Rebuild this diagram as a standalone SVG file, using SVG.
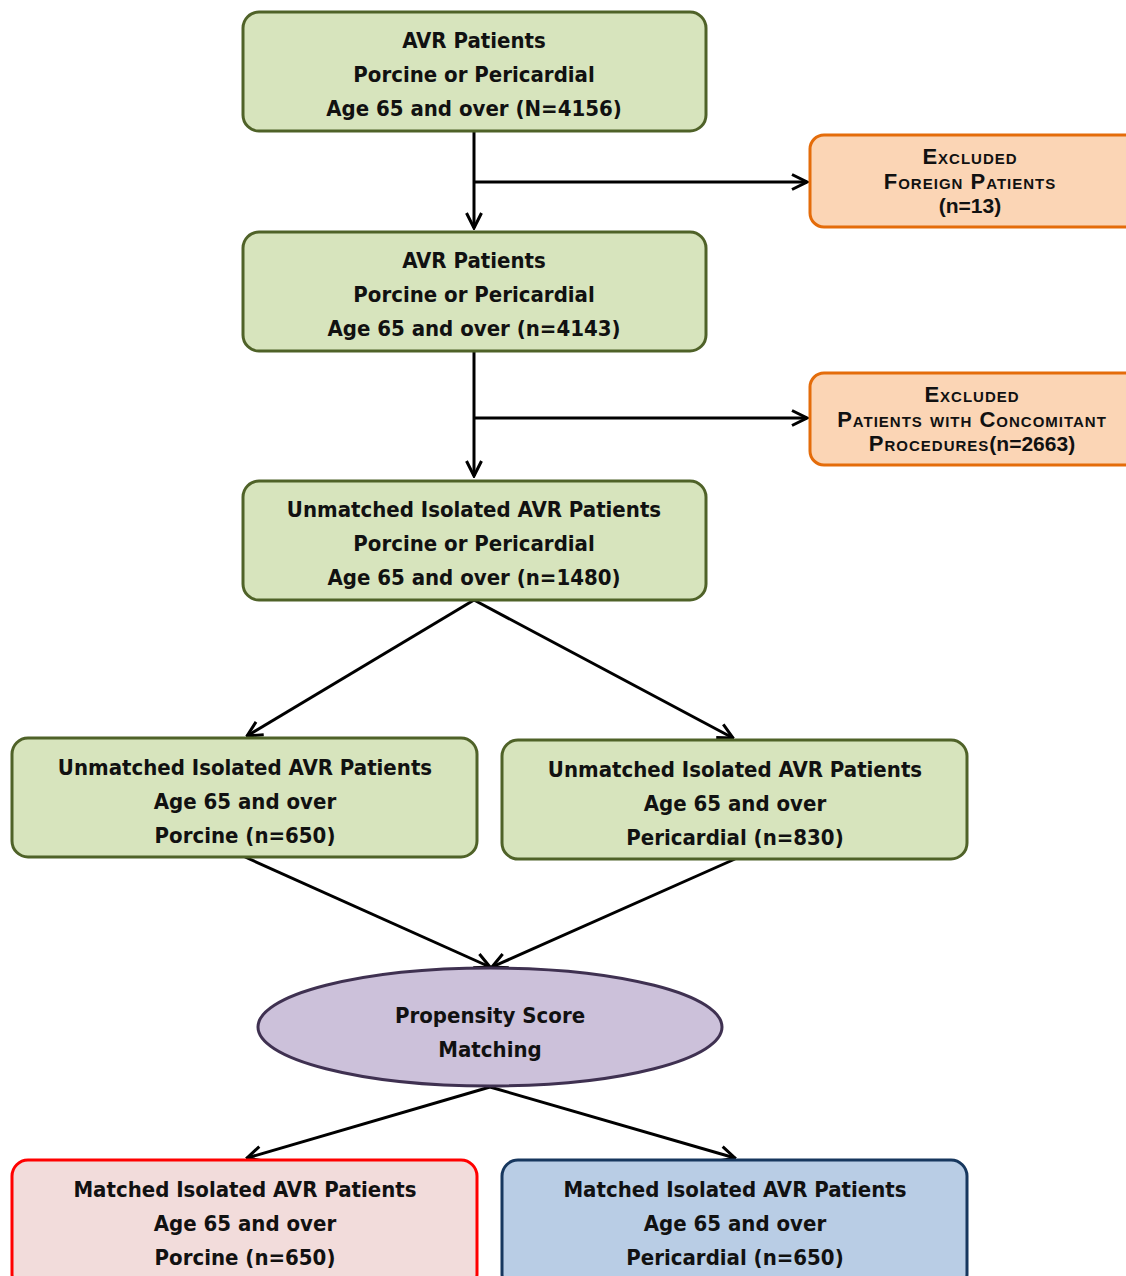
<svg xmlns="http://www.w3.org/2000/svg" width="1126" height="1276" viewBox="0 0 1126 1276">
<style>
.g{fill:#d7e4bd;stroke:#4f6228;stroke-width:3}
.o{fill:#fbd5b5;stroke:#e46c0a;stroke-width:3}
.r{fill:#f2dcdb;stroke:#ff0000;stroke-width:3}
.b{fill:#b9cde5;stroke:#17375e;stroke-width:3}
.p{fill:#ccc1da;stroke:#3f3151;stroke-width:3}
text{font-family:"Liberation Sans Narrow","DejaVu Sans Condensed","Liberation Sans",sans-serif;font-weight:bold;font-size:22px;fill:#111;text-anchor:middle}
text.sc{font-family:"Liberation Sans","DejaVu Sans",sans-serif;font-variant:small-caps;font-size:22px;letter-spacing:1px}
.c{stroke:#000;stroke-width:3;fill:none;marker-end:url(#ah)}
</style>
<defs>
<marker id="ah" viewBox="0 0 12 12" refX="11" refY="6" markerWidth="6" markerHeight="6" orient="auto" markerUnits="strokeWidth">
<path d="M1,1 L11,6 L1,11" fill="none" stroke="#000" stroke-width="2"/>
</marker>
</defs>
<rect width="1126" height="1276" fill="#fff"/>
<g id="connectors">
<path class="c" d="M474,131 V228"/>
<path class="c" d="M474,182 H807"/>
<path class="c" d="M474,351 V476"/>
<path class="c" d="M474,418 H807"/>
<path class="c" d="M474,600 L247,736"/>
<path class="c" d="M474,600 L733,738"/>
<path class="c" d="M245,857 L490,967"/>
<path class="c" d="M735,859 L492,967"/>
<path class="c" d="M490,1087 L247,1158"/>
<path class="c" d="M490,1087 L735,1158"/>
</g>
<g id="n1">
<rect class="g" x="243" y="12" width="463" height="119" rx="16"/>
<text x="474" y="48">AVR Patients</text>
<text x="474" y="82">Porcine or Pericardial</text>
<text x="474" y="116">Age 65 and over (N=4156)</text>
</g>
<g id="x1">
<rect class="o" x="810" y="135" width="330" height="92" rx="14"/>
<text class="sc" x="970" y="164">Excluded</text>
<text class="sc" x="970" y="189">Foreign Patients</text>
<text class="sc" x="970" y="213" style="font-variant:normal;font-size:21px;letter-spacing:0">(n=13)</text>
</g>
<g id="n2">
<rect class="g" x="243" y="232" width="463" height="119" rx="16"/>
<text x="474" y="268">AVR Patients</text>
<text x="474" y="302">Porcine or Pericardial</text>
<text x="474" y="336">Age 65 and over (n=4143)</text>
</g>
<g id="x2">
<rect class="o" x="810" y="373" width="330" height="92" rx="14"/>
<text class="sc" x="972" y="402">Excluded</text>
<text class="sc" x="972" y="427">Patients with Concomitant</text>
<text class="sc" x="972" y="451">Procedures<tspan style="font-variant:normal;font-size:21px;letter-spacing:0">(n=2663)</tspan></text>
</g>
<g id="n3">
<rect class="g" x="243" y="481" width="463" height="119" rx="16"/>
<text x="474" y="517">Unmatched Isolated AVR Patients</text>
<text x="474" y="551">Porcine or Pericardial</text>
<text x="474" y="585">Age 65 and over (n=1480)</text>
</g>
<g id="n4">
<rect class="g" x="12" y="738" width="465" height="119" rx="16"/>
<text x="245" y="775">Unmatched Isolated AVR Patients</text>
<text x="245" y="809">Age 65 and over</text>
<text x="245" y="843">Porcine (n=650)</text>
</g>
<g id="n5">
<rect class="g" x="502" y="740" width="465" height="119" rx="16"/>
<text x="735" y="777">Unmatched Isolated AVR Patients</text>
<text x="735" y="811">Age 65 and over</text>
<text x="735" y="845">Pericardial (n=830)</text>
</g>
<g id="psm">
<ellipse class="p" cx="490" cy="1027" rx="232" ry="59"/>
<text x="490" y="1023">Propensity Score</text>
<text x="490" y="1057">Matching</text>
</g>
<g id="m1">
<rect class="r" x="12" y="1160" width="465" height="130" rx="16"/>
<text x="245" y="1197">Matched Isolated AVR Patients</text>
<text x="245" y="1231">Age 65 and over</text>
<text x="245" y="1265">Porcine (n=650)</text>
</g>
<g id="m2">
<rect class="b" x="502" y="1160" width="465" height="130" rx="16"/>
<text x="735" y="1197">Matched Isolated AVR Patients</text>
<text x="735" y="1231">Age 65 and over</text>
<text x="735" y="1265">Pericardial (n=650)</text>
</g>
</svg>
